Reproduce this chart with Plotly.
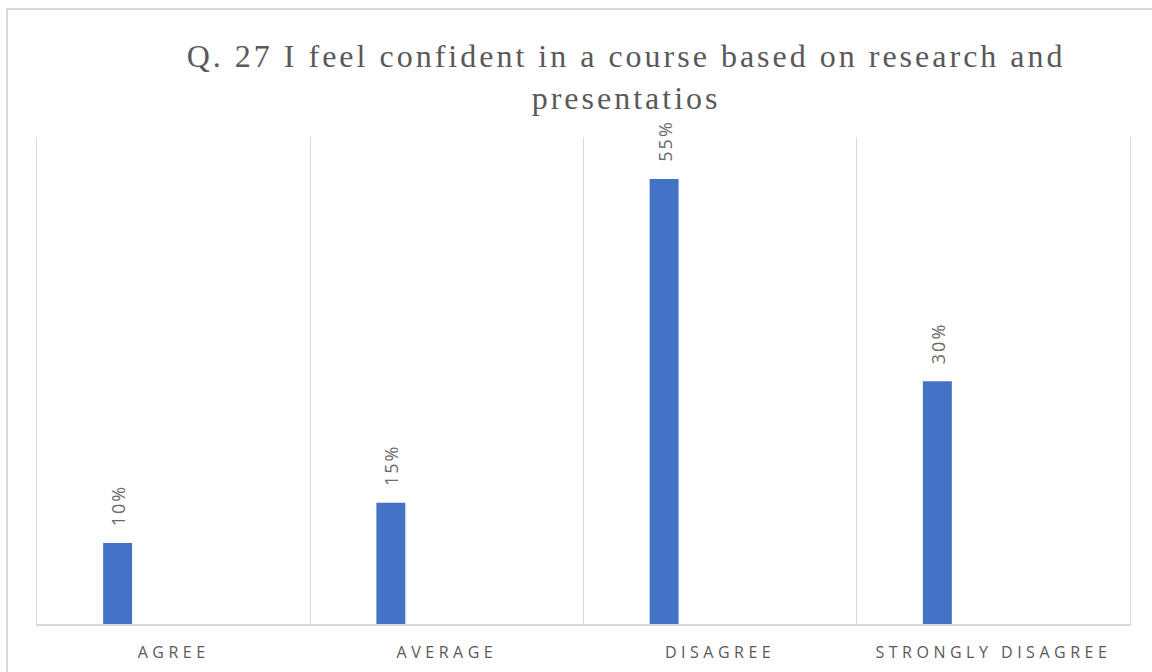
import plotly.graph_objects as go

categories = ["AGREE", "AVERAGE", "DISAGREE", "STRONGLY DISAGREE"]
values = [10, 15, 55, 30]
labels = ["10%", "15%", "55%", "30%"]
title_text = "Q. 27 I feel confident in a course based on research and<br>presentatios"

BAR_W = 0.106
BAR_OFF = -0.258
GRAY = "#595959"
LINE = "#d9d9d9"

fig = go.Figure()
fig.add_trace(go.Bar(
    x=categories, y=values, width=BAR_W, offset=BAR_OFF,
    marker=dict(color="#4472C4", line=dict(width=0)),
    hoverinfo="skip", showlegend=False,
))

annotations = []
for i, (v, t) in enumerate(zip(values, labels)):
    annotations.append(dict(
        x=i + BAR_OFF + BAR_W / 2, y=v, xref="x", yref="y",
        text=t, textangle=-90, showarrow=False,
        xanchor="center", yanchor="bottom", yshift=18,
        font=dict(family="Open Sans", size=18, color="#6a6a6a"),
    ))

fig.update_layout(
    width=1152, height=672,
    margin=dict(l=37, r=22, t=137, b=48, autoexpand=False),
    paper_bgcolor="white", plot_bgcolor="white",
    title=dict(
        text=title_text, x=0.539, xref="paper", xanchor="center",
        y=1 - 67 / 672, yref="container", yanchor="top",
        font=dict(family="Liberation Serif", size=32, color=GRAY),
    ),
    xaxis=dict(
        type="category", range=[-0.5, len(categories) - 0.5],
        tickson="boundaries", showgrid=True, gridcolor=LINE, gridwidth=1,
        showline=True, linecolor=LINE, linewidth=1.5,
        ticks="", ticklabelstandoff=13, automargin=False,
        tickfont=dict(family="Open Sans", size=16, color=GRAY),
        fixedrange=True,
    ),
    yaxis=dict(
        range=[0, 60.2], showgrid=False, showticklabels=False, automargin=False,
        zeroline=False, showline=True, mirror=True, linecolor=LINE, linewidth=1,
        fixedrange=True,
    ),
    annotations=annotations,
    shapes=[dict(
        type="rect", xref="paper", yref="paper",
        x0=(7 - 37) / 1093, x1=1.2, y0=-0.3, y1=(624 - 9) / 487,
        line=dict(color=LINE, width=2), fillcolor="rgba(0,0,0,0)", layer="below",
    )],
)

post = """
document.body.style.margin='0';
var gd = document.getElementById('{plot_id}');
function ls(){
  gd.querySelectorAll('.gtitle').forEach(function(e){e.style.letterSpacing='3px';});
  gd.querySelectorAll('.xtick text').forEach(function(e){e.style.letterSpacing='4.5px';});
  gd.querySelectorAll('.annotation-text').forEach(function(e){e.style.letterSpacing='2px';});
}
ls();
gd.on('plotly_afterplot', ls);
"""

fig.write_html("out.html", post_script=post, config={"displayModeBar": False})
